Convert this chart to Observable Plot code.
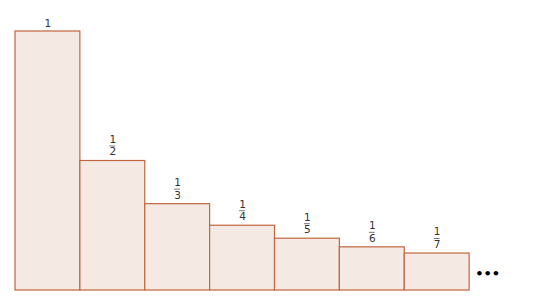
<!DOCTYPE html>
<html>
<head>
<meta charset="utf-8">
<script src="https://cdn.jsdelivr.net/npm/d3@7"></script>
<script src="https://cdn.jsdelivr.net/npm/@observablehq/plot@0.6"></script>
<style>
  html, body { margin: 0; padding: 0; background: #fff; }
  #chart svg { display: block; }
</style>
</head>
<body>
<div id="chart"></div>
<script>
const denominators = [1, 2, 3, 4, 5, 6, 7];
const values = denominators.map(n => 1 / n);
const numerators = ["1", "1", "1", "1", "1", "1", "1"];
const ellipsis = ["•••"];

const bars = denominators.map((n, i) => ({i, n, v: values[i], num: numerators[i], den: n === 1 ? "" : String(n)}));
const fracs = bars.filter(d => d.n > 1);
const whole = bars.filter(d => d.n === 1);

const fill = "#f5e9e4";
const stroke = "#c1653f";
const ink = "#333";

const chart = Plot.plot({
  width: 540,
  height: 308,
  marginLeft: 15,
  marginRight: 6,
  marginTop: 31,
  marginBottom: 18,
  x: {domain: [0, 8], axis: null},
  y: {domain: [0, 1], axis: null},
  style: {fontFamily: "'DejaVu Sans', sans-serif", fontSize: "10.5px", background: "#fff"},
  marks: [
    Plot.rectY(bars, {x1: d => d.i, x2: d => d.i + 1, y1: 0, y2: "v", fill, stroke, strokeWidth: 1.2, inset: 0}),
    Plot.text(whole, {x: d => d.i + 0.5, y: "v", text: "num", dy: -8, fill: ink}),
    Plot.text(fracs, {x: d => d.i + 0.5, y: "v", text: "num", dy: -21.5, fill: ink}),
    Plot.ruleY(fracs, {x1: d => d.i + 0.5 - 0.045, x2: d => d.i + 0.5 + 0.045, y: "v", dy: -15, stroke: "#666", strokeWidth: 0.9}),
    Plot.text(fracs, {x: d => d.i + 0.5, y: "v", text: "den", dy: -9, fill: ink}),
    Plot.text(ellipsis, {x: denominators.length, y: 0, text: d => d, dx: 18, dy: -17, fontSize: 13, fontWeight: "bold", fill: "#000", letterSpacing: "1px"})
  ]
});
document.getElementById("chart").appendChild(chart);
</script>
</body>
</html>
